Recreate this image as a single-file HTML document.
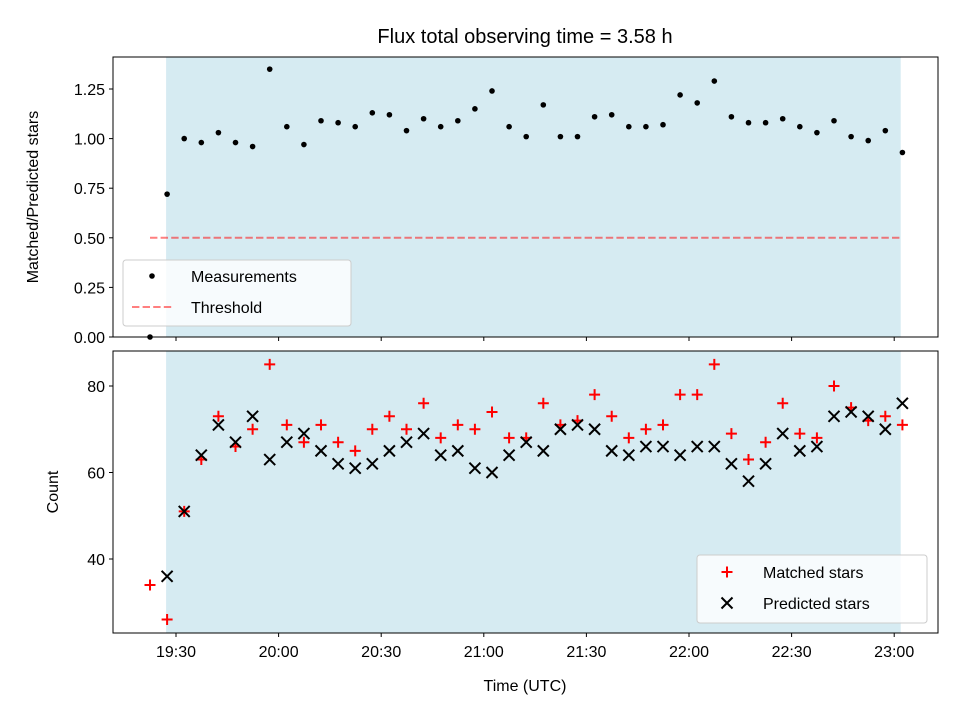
<!DOCTYPE html>
<html><head><meta charset="utf-8">
<style>
body{margin:0;background:#fff;}
svg{display:block;font-family:"Liberation Sans","DejaVu Sans",sans-serif;}
</style></head>
<body>
<svg id="fig" width="960" height="720" viewBox="0 0 960 720" xmlns="http://www.w3.org/2000/svg"></svg>
<script>
// data: minutes relative to 19:30 UTC of each sample
const startMinutes = -7.6;
const stepMinutes = 5;
const ratioValues = [0.0,0.72,1.0,0.98,1.03,0.98,0.96,1.35,1.06,0.97,1.09,1.08,1.06,1.13,1.12,1.04,1.10,1.06,1.09,1.15,1.24,1.06,1.01,1.17,1.01,1.01,1.11,1.12,1.06,1.06,1.07,1.22,1.18,1.29,1.11,1.08,1.08,1.10,1.06,1.03,1.09,1.01,0.99,1.04,0.93];
const matchedValues = [34,26,51,63,73,66,70,85,71,67,71,67,65,70,73,70,76,68,71,70,74,68,68,76,71,72,78,73,68,70,71,78,78,85,69,63,67,76,69,68,80,75,72,73,71];
const predictedValues = [null,36,51,64,71,67,73,63,67,69,65,62,61,62,65,67,69,64,65,61,60,64,67,65,70,71,70,65,64,66,66,64,66,66,62,58,62,69,65,66,73,74,73,70,76];
const thresholdValue = 0.5;
const xTickLabels = ["19:30","20:00","20:30","21:00","21:30","22:00","22:30","23:00"];
const xTickMinutes = [0,30,60,90,120,150,180,210];
const topTicks = [0,0.25,0.5,0.75,1.0,1.25];
const topTickLabels = ["0.00","0.25","0.50","0.75","1.00","1.25"];
const bottomTicks = [40,60,80];
const shadeMinutes = [-2.9, 211.9];

const NS="http://www.w3.org/2000/svg";
const svg=document.getElementById('fig');
function mk(tag,attrs,parent,text){const e=document.createElementNS(NS,tag);for(const k in attrs)e.setAttribute(k,attrs[k]);if(text!==undefined)e.textContent=text;(parent||svg).appendChild(e);return e;}
const L=113,R=938;
const X=m=>176+(m)*(102.6/30);
const T={top:57,bot:337};const B={top:351,bot:633};
const yTop=v=>337-v*198.4;
const yBot=v=>559-(v-40)*4.325;
const tx=i=>X(startMinutes+stepMinutes*i);

// title
let t=mk('text',{x:525,y:43,'text-anchor':'middle','font-size':20});t.textContent='Flux total observing time = 3.58 h';


function panel(P,name){
  const g=mk('g',{});
  const sh=mk('rect',{x:X(shadeMinutes[0]),y:P.top,width:X(shadeMinutes[1])-X(shadeMinutes[0]),height:P.bot-P.top,fill:'#add8e6','fill-opacity':0.5},g);
  
  return g;
}
const gt=panel(T,'top-panel');
const gb=panel(B,'bottom-panel');

// threshold
const th=mk('line',{x1:tx(0),x2:X(shadeMinutes[1]),y1:yTop(thresholdValue),y2:yTop(thresholdValue),stroke:'#ff0000','stroke-opacity':0.5,'stroke-width':2,'stroke-dasharray':'7.4,3.2'},gt);


ratioValues.forEach((v,i)=>{const c=mk('circle',{cx:tx(i),cy:yTop(v),r:2.8,fill:'#000'},gt);
});

matchedValues.forEach((v,i)=>{if(v==null)return;const x=tx(i),y=yBot(v),s=5.5;
const p=mk('path',{d:`M${x-s},${y}H${x+s}M${x},${y-s}V${y+s}`,stroke:'#ff0000','stroke-width':2},gb);
});
predictedValues.forEach((v,i)=>{if(v==null)return;const x=tx(i),y=yBot(v),s=5.5;
const p=mk('path',{d:`M${x-s},${y-s}L${x+s},${y+s}M${x-s},${y+s}L${x+s},${y-s}`,stroke:'#000','stroke-width':2},gb);
});

// frames
[T,B].forEach((P,j)=>{const r=mk('rect',{x:L,y:P.top,width:R-L,height:P.bot-P.top,fill:'none',stroke:'#000','stroke-width':1});
});

// x ticks
xTickMinutes.forEach((m,i)=>{const x=X(m);
 mk('line',{x1:x,x2:x,y1:T.bot,y2:T.bot+4,stroke:'#000'});
 mk('line',{x1:x,x2:x,y1:B.bot,y2:B.bot+4,stroke:'#000'});
 const l=mk('text',{x:x,y:B.bot+24,'text-anchor':'middle','font-size':16},undefined,xTickLabels[i]);
 });
topTicks.forEach((v,i)=>{const y=yTop(v);mk('line',{x1:L-4,x2:L,y1:y,y2:y,stroke:'#000'});
 const l=mk('text',{x:L-8,y:y+6,'text-anchor':'end','font-size':16},undefined,topTickLabels[i]);
 });
bottomTicks.forEach(v=>{const y=yBot(v);mk('line',{x1:L-4,x2:L,y1:y,y2:y,stroke:'#000'});
 const l=mk('text',{x:L-8,y:y+6,'text-anchor':'end','font-size':16},undefined,String(v));
 });

let a=mk('text',{x:525,y:691,'text-anchor':'middle','font-size':16},undefined,'Time (UTC)');

a=mk('text',{x:38,y:197,'text-anchor':'middle','font-size':16,transform:'rotate(-90 38 197)'},undefined,'Matched/Predicted stars');

a=mk('text',{x:58,y:492,'text-anchor':'middle','font-size':16,transform:'rotate(-90 58 492)'},undefined,'Count');


// legends
let lg=mk('g',{});
mk('rect',{x:123,y:260,width:228,height:66,rx:3,fill:'#fff','fill-opacity':0.8,stroke:'#ccc'},lg);
mk('circle',{cx:152,cy:276,r:2.8,fill:'#000'},lg);
mk('text',{x:191,y:282,'font-size':16},lg,'Measurements');
mk('line',{x1:132,x2:172,y1:307,y2:307,stroke:'#ff0000','stroke-opacity':0.5,'stroke-width':2,'stroke-dasharray':'7.4,3.2'},lg);
mk('text',{x:191,y:313,'font-size':16},lg,'Threshold');
lg=mk('g',{});
mk('rect',{x:697,y:555,width:230,height:68,rx:3,fill:'#fff','fill-opacity':0.8,stroke:'#ccc'},lg);
mk('path',{d:'M721.5,572H732.5M727,566.5V577.5',stroke:'#ff0000','stroke-width':2},lg);
mk('text',{x:763,y:578,'font-size':16},lg,'Matched stars');
mk('path',{d:'M721.5,597.5L732.5,608.5M721.5,608.5L732.5,597.5',stroke:'#000','stroke-width':2},lg);
mk('text',{x:763,y:609,'font-size':16},lg,'Predicted stars');
</script>
</body></html>
